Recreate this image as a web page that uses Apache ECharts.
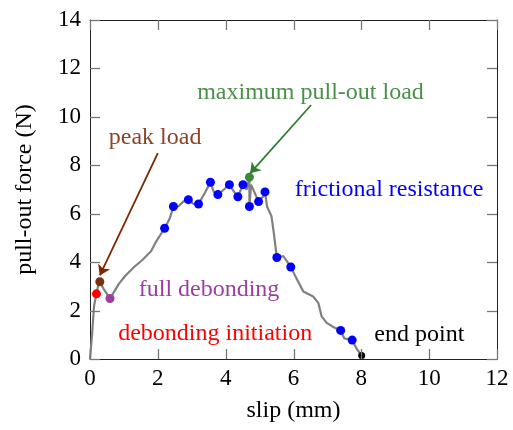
<!DOCTYPE html>
<html>
<head>
<meta charset="utf-8">
<script src="https://cdn.jsdelivr.net/npm/echarts@6/dist/echarts.min.js"></script>
<style>
html,body{margin:0;padding:0;background:#fff;}
#chart{width:513px;height:430px;}
</style>
</head>
<body>
<div id="chart"></div>
<script>
// ---- data ----
const curveSlip = [0, 0.06, 0.12, 0.19, 0.25, 0.29, 0.4, 0.59, 0.7, 0.85, 1.05, 1.3, 1.55, 1.8, 1.95, 2.2, 2.35, 2.46, 2.6, 2.75, 2.9, 3.05, 3.2, 3.4, 3.55, 3.65, 3.77, 3.95, 4.11, 4.25, 4.36, 4.51, 4.62, 4.7, 4.7, 4.75, 4.97, 5.1, 5.16, 5.22, 5.35, 5.42, 5.51, 5.7, 5.92, 6.08, 6.29, 6.58, 6.73, 6.83, 6.98, 7.2, 7.39, 7.5, 7.73, 7.85, 8.01];
const curveForce = [0, 1.0, 2.2, 2.69, 3.1, 3.19, 2.9, 2.5, 2.75, 3.1, 3.45, 3.8, 4.1, 4.45, 4.85, 5.4, 5.8, 6.3, 6.3, 6.5, 6.58, 6.4, 6.4, 6.9, 7.3, 6.9, 6.79, 7.0, 7.2, 6.9, 6.7, 7.2, 7.0, 7.51, 6.3, 7.2, 6.5, 6.7, 6.9, 6.3, 5.9, 5.2, 4.19, 4.25, 3.8, 3.35, 2.79, 2.58, 2.32, 1.76, 1.49, 1.3, 1.18, 0.85, 0.78, 0.45, 0.14];

const frictionSlip  = [2.2, 2.46, 2.9, 3.2, 3.55, 3.77, 4.11, 4.36, 4.51, 4.7, 4.97, 5.16, 5.51, 5.92, 7.39, 7.73];
const frictionForce = [5.4, 6.3, 6.58, 6.4, 7.3, 6.79, 7.2, 6.7, 7.2, 6.3, 6.5, 6.9, 4.19, 3.8, 1.18, 0.78];

const keyNames = ['debonding initiation', 'peak load', 'full debonding', 'maximum pull-out load', 'end point'];
const keySlip  = [0.19, 0.29, 0.59, 4.7, 8.01];
const keyForce = [2.69, 3.19, 2.5, 7.51, 0.14];

const labelTexts = ['maximum pull-out load', 'peak load', 'frictional resistance', 'full debonding', 'debonding initiation', 'end point'];
const labelSlip  = [6.5, 1.92, 8.82, 3.51, 3.69, 9.71];
const labelForce = [10.99, 9.13, 6.98, 2.86, 1.04, 1.0];

const arrowFrom = [[2.0, 8.5], [6.52, 10.49]];
const arrowTo   = [[0.29, 3.45], [4.72, 7.67]];

const xTicks = [0, 2, 4, 6, 8, 10, 12];
const yTicks = [0, 2, 4, 6, 8, 10, 12, 14];

// ---- styles ----
const FONT = 'Liberation Serif';
const keyColors = ['#ff0000', '#7a3312', '#9b3fa0', '#3a8a3a', '#000000'];
const keySizes = [9, 9, 9, 9, 7];
const labelColors = ['#4a8f4a', '#8b4426', '#0000ff', '#9b3fa0', '#ff0000', '#000000'];
const arrowColors = ['#7b2800', '#2f7f2f'];
const TICK_LEN = 10;

const chart = echarts.init(document.getElementById('chart'), null, {renderer: 'canvas'});

function ax(extra) {
  return Object.assign({
    type: 'value',
    splitLine: {show: false},
    axisLine: {show: true, onZero: false, lineStyle: {color: '#222', width: 1}},
    axisTick: {show: false},
    axisLabel: {show: false}
  }, extra);
}

const option = {
  animation: false,
  grid: {left: 90, right: 16, top: 20, bottom: 71},
  xAxis: [
    ax({min: 0, max: 12, interval: 2, position: 'bottom',
      name: 'slip (mm)', nameLocation: 'middle', nameGap: 40,
      nameTextStyle: {fontFamily: FONT, fontSize: 24, color: '#000'}}),
    ax({min: 0, max: 12, interval: 2, position: 'top'})
  ],
  yAxis: [
    ax({min: 0, max: 14, interval: 2, position: 'left',
      name: 'pull-out force (N)', nameLocation: 'middle', nameGap: 53, nameRotate: 90,
      nameTextStyle: {fontFamily: FONT, fontSize: 24, color: '#000'}}),
    ax({min: 0, max: 14, interval: 2, position: 'right'})
  ],
  series: [
    {
      type: 'line', name: 'curve',
      data: curveSlip.map((s, i) => [s, curveForce[i]]),
      showSymbol: false, symbol: 'none',
      lineStyle: {color: '#808080', width: 2.2},
      z: 2,
      markLine: {
        silent: true,
        symbol: ['none', 'arrow'],
        symbolSize: 10,
        label: {show: false},
        data: arrowFrom.map((f, i) => [
          {coord: f, lineStyle: {color: arrowColors[i], width: 1.8, type: 'solid'}, itemStyle: {color: arrowColors[i]}},
          {coord: arrowTo[i], itemStyle: {color: arrowColors[i]}}
        ])
      }
    },
    {
      type: 'scatter', name: 'friction',
      data: frictionSlip.map((s, i) => [s, frictionForce[i]]),
      symbolSize: 9,
      itemStyle: {color: '#0000ff', opacity: 1},
      z: 3
    },
    {
      type: 'scatter', name: 'keys',
      data: keySlip.map((s, i) => ({
        name: keyNames[i], value: [s, keyForce[i]],
        symbolSize: keySizes[i], itemStyle: {color: keyColors[i], opacity: 1}
      })),
      itemStyle: {opacity: 1},
      z: 4
    }
  ]
};
chart.setOption(option);

// ticks, tick labels and annotation texts placed through the chart's own scales
function buildGraphics() {
  const px = v => chart.convertToPixel({xAxisIndex: 0}, v);
  const py = v => chart.convertToPixel({yAxisIndex: 0}, v);
  const x0 = px(0), x1 = px(12), y0 = py(0), y1 = py(14);
  const els = [];
  const tickStyle = {stroke: '#777', lineWidth: 1.3};
  xTicks.forEach(v => {
    const x = Math.round(px(v)) + 0.5;
    els.push({type: 'line', z: 10, silent: true, shape: {x1: x, y1: y0, x2: x, y2: y0 - TICK_LEN}, style: tickStyle});
    els.push({type: 'line', z: 10, silent: true, shape: {x1: x, y1: y1, x2: x, y2: y1 + TICK_LEN}, style: tickStyle});
    els.push({type: 'text', z: 10, silent: true, x: px(v), y: y0 + 8,
      style: {text: String(v), fontFamily: FONT, fontSize: 23, fill: '#000', align: 'center', verticalAlign: 'top', textAlign: 'center', textVerticalAlign: 'top'}});
  });
  yTicks.forEach(v => {
    const y = Math.round(py(v)) + 0.5;
    els.push({type: 'line', z: 10, silent: true, shape: {x1: x0, y1: y, x2: x0 + TICK_LEN, y2: y}, style: tickStyle});
    els.push({type: 'line', z: 10, silent: true, shape: {x1: x1, y1: y, x2: x1 - TICK_LEN, y2: y}, style: tickStyle});
    els.push({type: 'text', z: 10, silent: true, x: x0 - 9, y: py(v),
      style: {text: String(v), fontFamily: FONT, fontSize: 23, fill: '#000', align: 'right', verticalAlign: 'middle', textAlign: 'right', textVerticalAlign: 'middle'}});
  });
  labelTexts.forEach((t, i) => {
    const p = chart.convertToPixel({seriesIndex: 0}, [labelSlip[i], labelForce[i]]);
    els.push({type: 'text', z: 20, silent: true, x: p[0], y: p[1],
      style: {text: t, fontFamily: FONT, fontSize: 24, fill: labelColors[i], align: 'center', verticalAlign: 'middle', textAlign: 'center', textVerticalAlign: 'middle'}});
  });
  chart.setOption({graphic: {elements: els}});
}
buildGraphics();
</script>
</body>
</html>
